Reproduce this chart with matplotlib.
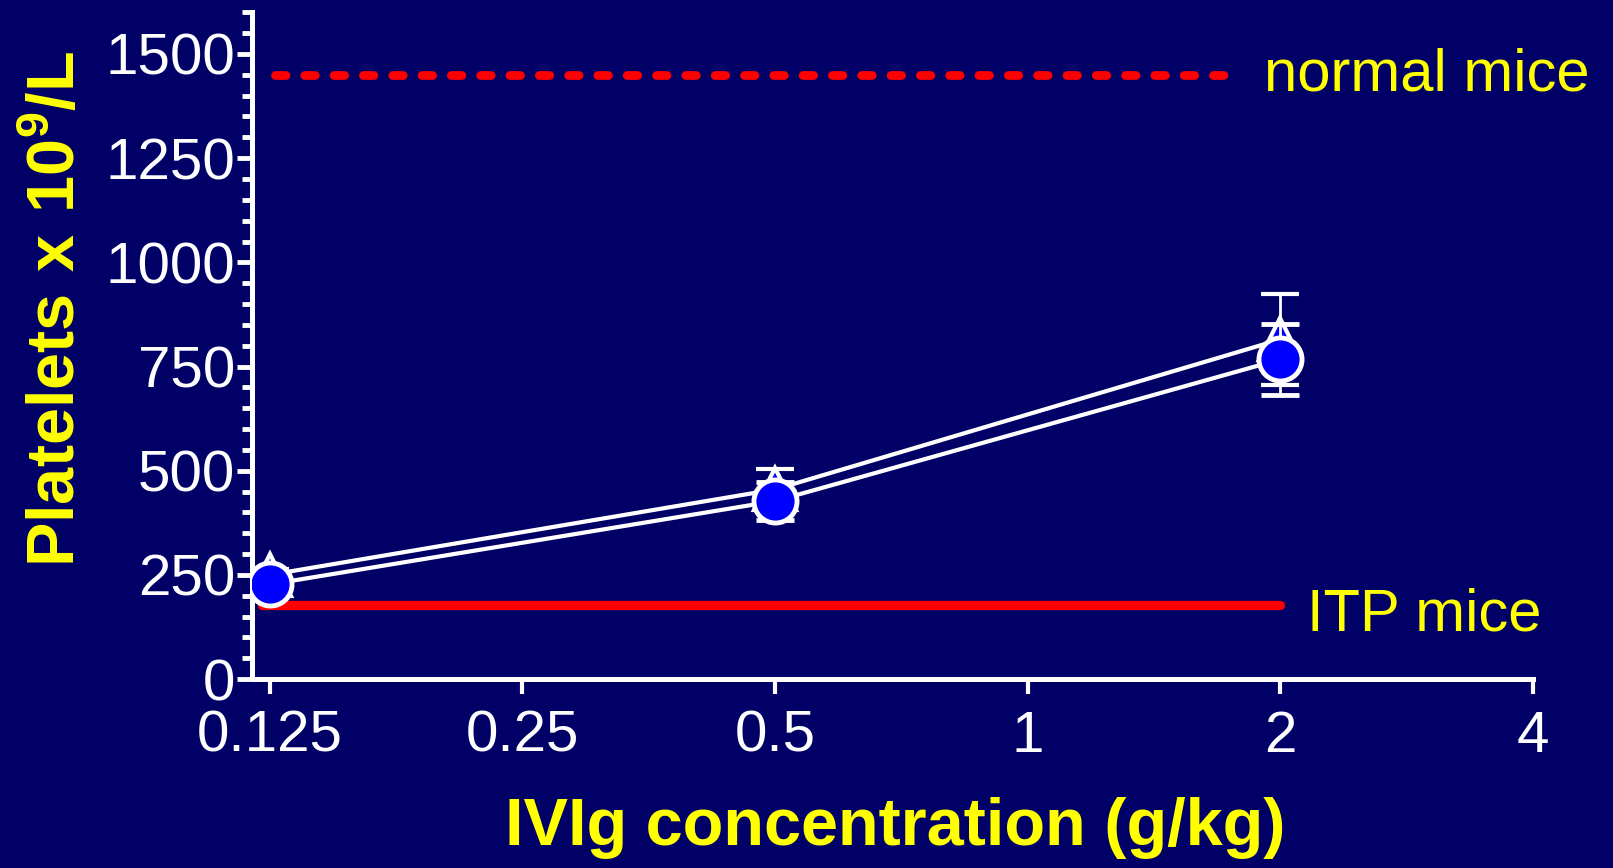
import matplotlib
matplotlib.use("Agg")
import matplotlib.pyplot as plt
from matplotlib.ticker import FixedLocator, MultipleLocator, FixedFormatter

plt.rcParams['font.family'] = ['Liberation Sans', 'DejaVu Sans']
plt.rcParams['mathtext.fontset'] = 'custom'
plt.rcParams['mathtext.rm'] = 'Liberation Sans'
plt.rcParams['mathtext.bf'] = 'Liberation Sans:bold'

# ---- data ----
doses = [0.125, 0.5, 2]
tri_vals = [250, 455, 815]
tri_err = [15, 48, 110]
circ_vals = [227, 427, 767]
circ_err = [15, 45, 85]
normal_level = 1450
itp_level = 178
normal_span = [0.127, 1.72]
itp_span = [0.1225, 2]
xtick_vals = [0.125, 0.25, 0.5, 1, 2, 4]
xtick_labels = ['0.125', '0.25', '0.5', '1', '2', '4']
ytick_vals = [0, 250, 500, 750, 1000, 1250, 1500]

BG = '#000066'
YEL = '#ffff00'
RED = '#ff0000'

fig = plt.figure(figsize=(16.13, 8.68), dpi=100, facecolor=BG)
ax = fig.add_axes([0.1562, 0.2177, 0.7942, 0.7681])
ax.set_facecolor(BG)

ax.set_xscale('log', base=2)
ax.set_xlim(2 ** -3.07, 4)
ax.set_ylim(0, 1600)

# reference lines
ln, = ax.plot(normal_span, [normal_level, normal_level], color=RED, lw=6.3,
              solid_capstyle='round', dash_capstyle='round', zorder=2)
ln.set_dashes([1.2, 2.15])
ax.plot(itp_span, [itp_level, itp_level], color=RED, lw=6.7,
        solid_capstyle='round', zorder=2)

# series
ax.errorbar(doses, tri_vals, yerr=tri_err, fmt='-', color='white', lw=3,
            elinewidth=2, capsize=14, capthick=2.5, marker='^', ms=30,
            mfc='#0000ff', mec='white', mew=3, zorder=3)
ax.errorbar(doses, circ_vals, yerr=circ_err, fmt='-', color='white', lw=3,
            elinewidth=2, capsize=14, capthick=2.5, marker='o', ms=31,
            mfc='#0000ff', mec='white', mew=3.5, zorder=4)

ax.text(1.91, 1450, 'normal mice', color=YEL, fontsize=43, va='center',
        ha='left', clip_on=False)
ax.text(2.15, 153, 'ITP mice', color=YEL, fontsize=43, va='center',
        ha='left', clip_on=False)

# axes styling
for s in ['top', 'right']:
    ax.spines[s].set_visible(False)
for s in ['left', 'bottom']:
    ax.spines[s].set_color('white')
    ax.spines[s].set_linewidth(3.6)

ax.xaxis.set_major_locator(FixedLocator(xtick_vals))
ax.xaxis.set_major_formatter(FixedFormatter(xtick_labels))
ax.xaxis.set_minor_locator(FixedLocator([]))
ax.yaxis.set_major_locator(FixedLocator(ytick_vals))
ax.yaxis.set_minor_locator(MultipleLocator(50))

ax.tick_params(axis='x', which='major', colors='white', labelsize=42,
               length=11, width=3, pad=11, direction='out')
ax.tick_params(axis='y', which='major', colors='white', labelsize=42,
               length=11, width=3.5, pad=1, direction='out')
ax.tick_params(axis='y', which='minor', colors='white', length=7, width=3.5,
               direction='out')

fig.text(0.555, 1 - 828 / 868, 'IVIg concentration (g/kg)', color=YEL,
         fontsize=48, fontweight='bold', ha='center', va='center')
fig.text(57 / 1613, 1 - 309 / 868, r'$\mathbf{Platelets\ x\ 10^{9}/L}$',
         color=YEL, fontsize=48, rotation=90, ha='center', va='center')

fig.savefig('out.png', dpi=100, facecolor=BG)
